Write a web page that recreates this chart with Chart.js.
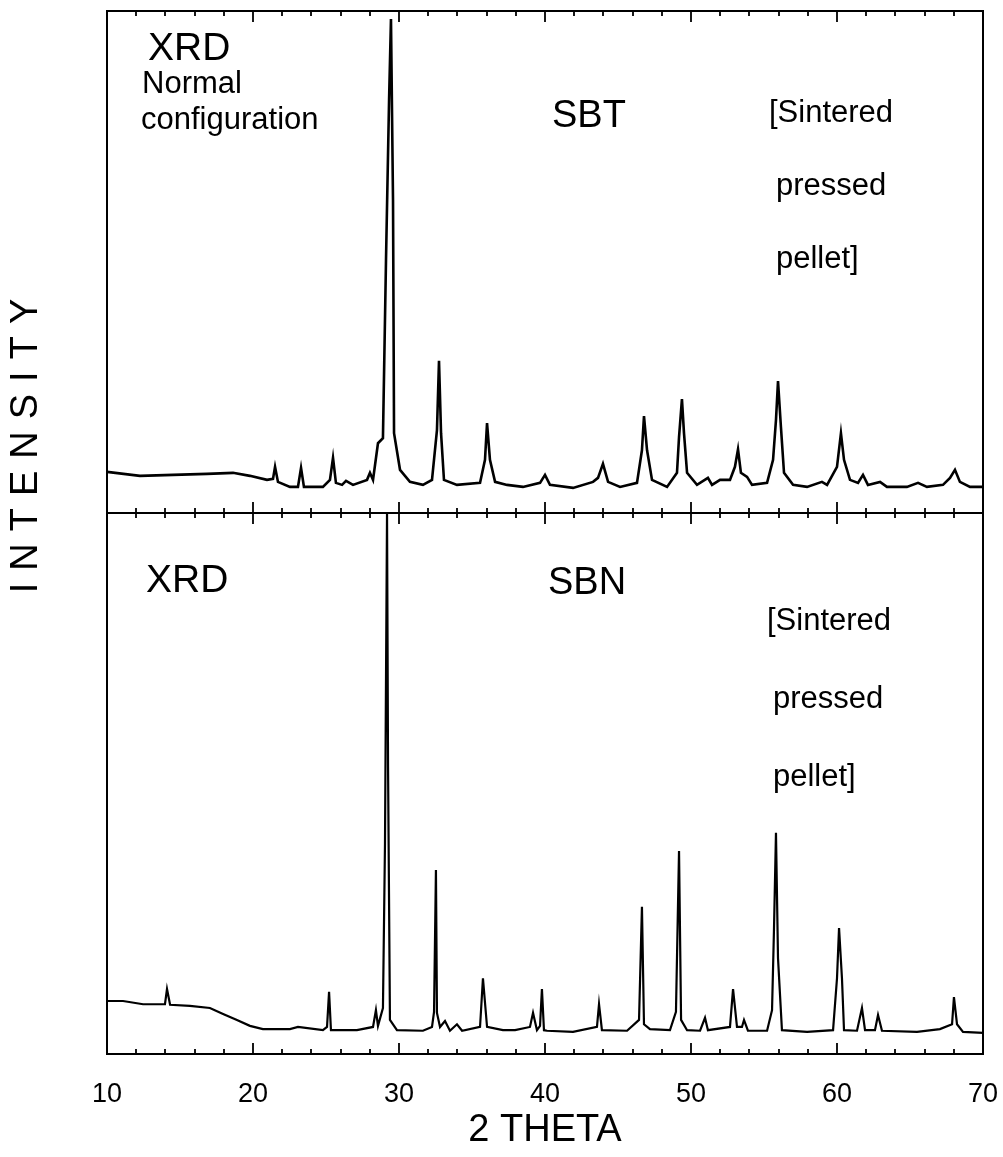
<!DOCTYPE html>
<html><head><meta charset="utf-8">
<script src="https://cdn.jsdelivr.net/npm/chart.js@4.4.1/dist/chart.umd.min.js"></script>
<style>html,body{margin:0;padding:0;background:#fff;}canvas{display:block;}</style>
</head><body>
<canvas id="c" width="1003" height="1157"></canvas>
<script>
// ---- data (2θ in degrees, intensity in arbitrary units, 0-100 per panel) ----
const xTickLabels = ['10', '20', '30', '40', '50', '60', '70'];
const xTickValues = [10, 20, 30, 40, 50, 60, 70];

const sbtTheta = [10.00,12.26,14.52,16.85,18.63,19.79,20.96,21.37,21.51,21.71,22.53,23.08,23.29,23.49,24.79,25.27,25.48,25.68,26.10,26.37,26.85,27.81,28.01,28.22,28.56,28.90,29.11,29.32,29.45,29.59,29.66,30.07,30.75,31.64,32.26,32.60,32.74,32.88,33.08,33.97,35.55,35.89,36.03,36.23,36.58,37.40,38.49,39.66,40.00,40.34,41.92,43.29,43.63,43.97,44.32,45.14,46.30,46.64,46.78,46.99,47.33,48.36,49.04,49.18,49.38,49.52,49.73,50.41,51.16,51.44,51.99,52.67,53.01,53.22,53.42,53.84,54.18,55.21,55.62,55.82,55.96,56.16,56.37,56.99,57.95,58.97,59.32,60.00,60.27,60.48,60.89,61.44,61.78,62.12,62.95,63.42,64.79,65.55,66.16,67.26,67.74,68.08,68.42,69.11,70.00];
const sbtIntensity = [8.2,7.4,7.6,7.8,8.0,7.4,6.6,6.8,9.2,6.2,5.2,5.2,9.0,5.2,5.2,6.6,11.0,6.0,5.6,6.4,5.6,6.6,8.0,6.6,13.9,14.9,50.4,82.3,98.4,62.4,15.9,8.6,6.2,5.6,6.6,16.5,30.3,15.9,6.6,5.6,6.0,10.6,17.9,10.6,6.2,5.6,5.2,6.0,7.6,5.6,5.0,6.2,7.0,9.8,6.2,5.2,6.0,12.5,19.3,12.5,6.6,5.2,8.0,15.1,22.7,15.9,8.0,5.6,7.0,5.6,6.6,6.6,9.2,12.7,8.0,7.2,5.6,6.0,10.6,18.5,26.3,17.1,8.0,5.6,5.2,6.2,5.6,9.2,15.9,10.6,6.6,6.0,7.6,5.6,6.2,5.2,5.2,6.0,5.2,5.6,7.0,8.6,6.2,5.2,5.2];

const sbnTheta = [10.00,11.10,12.47,13.97,14.11,14.32,15.68,17.05,17.95,18.90,19.79,20.68,22.53,23.08,24.79,25.07,25.21,25.34,27.12,28.22,28.42,28.56,28.90,29.04,29.18,29.25,29.38,29.86,31.64,32.26,32.40,32.53,32.60,32.81,33.15,33.49,33.97,34.32,35.55,35.75,36.03,37.12,37.95,38.97,39.18,39.45,39.66,39.79,39.93,40.14,41.92,43.56,43.70,43.90,45.62,46.44,46.64,46.78,47.19,48.56,48.97,49.18,49.32,49.73,50.62,50.96,51.16,52.67,52.88,53.15,53.49,53.63,53.90,55.21,55.55,55.68,55.82,55.96,56.23,57.95,59.73,60.00,60.14,60.34,60.48,61.37,61.71,61.92,62.60,62.81,63.08,65.48,67.05,67.88,68.01,68.22,68.63,70.00];
const sbnIntensity = [9.8,9.8,9.2,9.2,12.0,9.1,8.9,8.5,7.4,6.3,5.2,4.6,4.6,5.0,4.4,5.0,11.5,4.4,4.4,5.0,8.1,5.2,8.5,38.8,100,53.0,6.3,4.4,4.3,5.0,7.8,34.0,7.6,5.0,6.1,4.3,5.5,4.3,5.0,14.0,5.0,4.4,4.4,5.0,7.6,4.4,5.2,12.0,4.4,4.3,4.1,5.0,9.2,4.4,4.3,6.3,27.2,5.5,4.6,4.4,7.8,37.5,6.3,4.4,4.3,6.7,4.4,5.0,12.0,5.0,5.0,6.3,4.3,4.3,8.1,22.6,40.9,17.7,4.4,4.1,4.4,14.0,23.3,14.0,4.4,4.3,8.5,4.4,4.4,7.2,4.3,4.1,4.6,5.5,10.5,5.5,4.1,3.9];

const topNotes = ['XRD', 'Normal', 'configuration', 'SBT', '[Sintered', 'pressed', 'pellet]'];
const bottomNotes = ['XRD', 'SBN', '[Sintered', 'pressed', 'pellet]'];
const xTitle = '2 THETA';
const yTitle = 'INTENSITY';

const FONT = "'Liberation Sans', Arial, Helvetica, sans-serif";

function toPoints(xs, ys) { return xs.map((v, i) => ({ x: v, y: ys[i] })); }

const framePlugin = {
  id: 'frame',
  afterDatasetsDraw(chart) {
    const { ctx, chartArea, scales } = chart;
    const { left, right, top, bottom } = chartArea;
    const x = scales.x;
    const mid = scales.yTop.bottom;
    ctx.save();
    ctx.strokeStyle = '#000';
    ctx.lineWidth = 2;
    ctx.strokeRect(left, top, right - left, bottom - top);
    ctx.beginPath();
    ctx.moveTo(left, mid); ctx.lineTo(right, mid);
    ctx.stroke();
    ctx.lineWidth = 1.8;
    for (let v = 12; v < 70; v += 2) {
      const px = Math.round(x.getPixelForValue(v));
      const L = (v % 10 === 0) ? 11 : 5;
      ctx.beginPath();
      ctx.moveTo(px, top); ctx.lineTo(px, top + L);
      ctx.moveTo(px, mid - L); ctx.lineTo(px, mid + L);
      ctx.moveTo(px, bottom); ctx.lineTo(px, bottom - L);
      ctx.stroke();
    }
    ctx.restore();
  },
  afterDraw(chart) {
    const { ctx } = chart;
    ctx.save();
    ctx.fillStyle = '#000';
    ctx.textAlign = 'left';
    ctx.textBaseline = 'alphabetic';
    const put = (t, px, py, size) => { ctx.font = size + 'px ' + FONT; ctx.fillText(t, px, py); };
    // upper panel notes
    put(topNotes[0], 148, 60, 39);
    put(topNotes[1], 142, 93, 31);
    put(topNotes[2], 141, 129, 31);
    put(topNotes[3], 552, 127, 38);
    put(topNotes[4], 769, 122, 31);
    put(topNotes[5], 776, 195, 31);
    put(topNotes[6], 776, 268, 31);
    // lower panel notes
    put(bottomNotes[0], 146, 592, 39);
    put(bottomNotes[1], 548, 594, 38);
    put(bottomNotes[2], 767, 630, 31);
    put(bottomNotes[3], 773, 708, 31);
    put(bottomNotes[4], 773, 786, 31);
    // vertical axis title
    ctx.translate(27, 446);
    ctx.rotate(-Math.PI / 2);
    ctx.font = '38px ' + FONT;
    ctx.letterSpacing = '12px';
    ctx.textAlign = 'center';
    ctx.textBaseline = 'middle';
    ctx.fillText(yTitle, 6, 0);
    ctx.restore();
  }
};

new Chart(document.getElementById('c'), {
  type: 'line',
  data: {
    datasets: [
      { label: 'SBT', data: toPoints(sbtTheta, sbtIntensity), yAxisID: 'yTop',
        borderColor: '#000', borderWidth: 2.6, pointRadius: 0, tension: 0, fill: false },
      { label: 'SBN', data: toPoints(sbnTheta, sbnIntensity), yAxisID: 'yBot',
        borderColor: '#000', borderWidth: 2.2, pointRadius: 0, tension: 0, fill: false }
    ]
  },
  options: {
    responsive: false,
    devicePixelRatio: 1,
    animation: false,
    layout: { padding: { left: 107, right: 20, top: 11, bottom: 0 } },
    plugins: { legend: { display: false }, tooltip: { enabled: false } },
    scales: {
      x: {
        type: 'linear', position: 'bottom', min: 10, max: 70,
        afterBuildTicks: (s) => { s.ticks = xTickValues.map(v => ({ value: v })); },
        afterFit: (s) => { s.height = 103; s.paddingLeft = 0; s.paddingRight = 0; },
        grid: { display: false, drawTicks: false },
        border: { display: false },
        ticks: {
          color: '#000', padding: 24, maxRotation: 0, autoSkip: false,
          font: { family: FONT, size: 27 },
          callback: (v) => xTickLabels[xTickValues.indexOf(v)]
        },
        title: { display: true, text: xTitle, color: '#000',
          font: { family: FONT, size: 38 }, padding: { top: 0, bottom: 4 } }
      },
      yBot: {
        type: 'linear', position: 'left', stack: 'panels', stackWeight: 541,
        min: 0, max: 100, display: false
      },
      yTop: {
        type: 'linear', position: 'left', stack: 'panels', stackWeight: 502,
        min: 0, max: 100, display: false
      }
    }
  },
  plugins: [framePlugin]
});
</script>
</body></html>
